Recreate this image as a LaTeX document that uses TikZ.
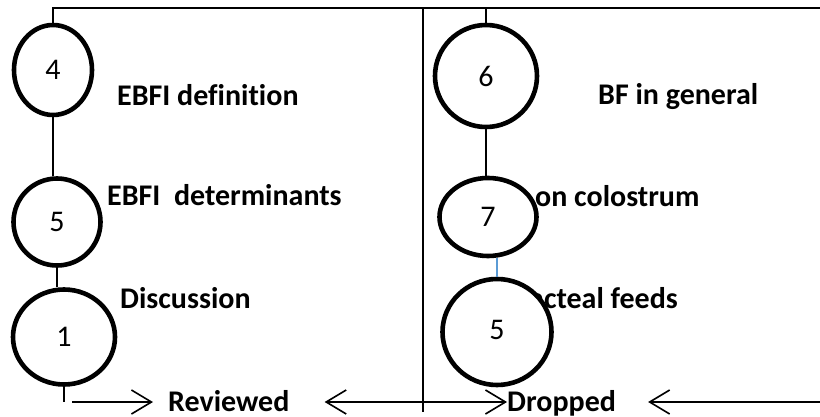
\documentclass[tikz,border=0pt]{standalone}
\usepackage{fontspec}
\setmainfont{Carlito}[Ligatures=NoCommon]
\usetikzlibrary{arrows.meta,shapes.geometric}

\tikzset{
    stage/.style={ellipse, draw, line width=4.6pt, fill=white, inner sep=0pt
        , font=\fontsize{30}{33}\selectfont},
    topic/.style={anchor=base west, inner sep=0pt, font=\fontsize{30}{33}\selectfont\bfseries},
    link/.style={line width=1.6pt},
    flow/.style={line width=1.6pt
        , -{Straight Barb[length=20pt,width=24pt,line width=1.6pt]}},
}

\begin{document}
\begin{tikzpicture}[x=1pt, y=-1pt
        , every node/.style={}
    ]
    \useasboundingbox (0,0) rectangle (820,417);

    %% topics first, the circles sit on top of them
    \node[topic] (defn) at (117,106) {EBFI definition};
    \node[topic] (determ) at (107,206) {EBFI\ \ determinants};
    \node[topic] (disc) at (120,308) {Discussion};
    \node[topic] (general) at (598,105) {BF in general};
    \node[topic] (colos) at (535,207) {on colostrum};
    \node[topic] (feeds) at (529,308) {acteal feeds};
    \node[topic] (reviewed) at (168,411) {Reviewed};
    \node[topic] (dropped) at (507,411) {Dropped};

    % left column
    \node[stage, minimum width=78pt, minimum height=90pt] (c4) at (53,70) {\raisebox{-3pt}{4}};
    \node[stage, minimum width=87pt, minimum height=87pt] (c5) at (57,222) {\raisebox{-6pt}{5}};
    \node[stage, minimum width=102pt, minimum height=95pt] (c1) at (64,337) {1};

    % right column
    \node[stage, minimum width=102pt, minimum height=102pt] (c6) at (486,76) {6};
    \node[stage, minimum width=97pt, minimum height=78pt] (c7) at (488,217) {\raisebox{-8pt}{7}};
    \node[stage, minimum width=109pt, minimum height=106pt] (c5b) at (497,332) {\raisebox{4pt}{5}};

    \coordinate (corner) at (53,8);
    \coordinate (topend) at (820,8);
    \coordinate (tail) at (64,402);
    \coordinate (divtop) at (423,8);
    \coordinate (divbot) at (423,412);

    % frame lines
    \draw[link] (c4.north) -- (corner) -- (topend);
    \draw[link] (c6.north) -- (c6.north |- topend);
    \draw[link] (divtop) -- (divbot);

    % chains
    \draw[link] (c4.south) -- (c4.south |- c5.north);
    \draw[link] (c5.south) -- (c5.south |- c1.north);
    \draw[link] (c1.south) -- (tail);
    \draw[link] (c6.south) -- (c6.south |- c7.north);
    \draw[line width=1.6pt, color={rgb,255:red,91;green,155;blue,213}]
        (c5b.north |- c7.south) -- (c5b.north);

    % arrows at the bottom
    \draw[flow, shorten <=8pt, shorten >=15pt] (tail) -- (tail -| reviewed.west);
    \draw[flow, shorten >=35pt] (tail -| divbot) ++(22,0) coordinate (split) -- (tail -| reviewed.east);
    \draw[flow] (tail -| divbot) -- (tail -| dropped.west);
    \draw[flow, shorten >=32pt] (tail -| topend) -- (tail -| dropped.east);
\end{tikzpicture}
\end{document}
